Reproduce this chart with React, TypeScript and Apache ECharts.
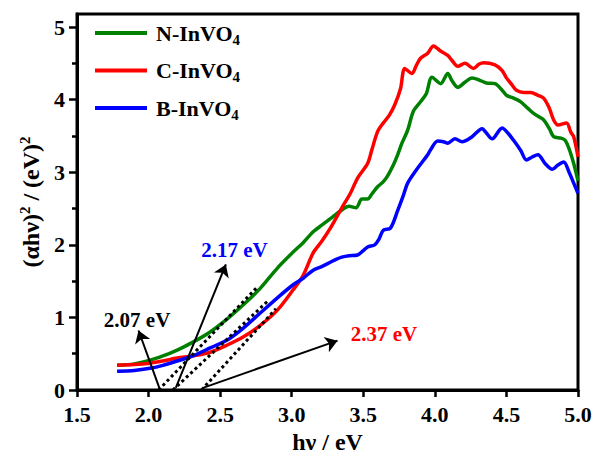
import React, { useEffect, useRef } from "react";
import * as echarts from "echarts";

const FONT = "'Liberation Serif', 'Times New Roman', serif";

const xTicks = [1.5, 2.0, 2.5, 3.0, 3.5, 4.0, 4.5, 5.0];
const yTicks = [0, 1, 2, 3, 4, 5];
const yMinorTicks = [0.5, 1.5, 2.5, 3.5, 4.5];

const seriesNames = ["N-InVO4", "C-InVO4", "B-InVO4"];
const seriesColors = ["#008000", "#ff0000", "#0000ff"];

const nData = [
  [1.78, 0.34], [1.9, 0.36], [2.01, 0.41], [2.1, 0.47], [2.2, 0.55], [2.31, 0.66], [2.43, 0.8],
  [2.55, 0.98], [2.66, 1.17], [2.78, 1.4], [2.9, 1.68], [3.01, 1.9], [3.08, 2.03], [3.15, 2.18],
  [3.21, 2.27], [3.27, 2.36], [3.35, 2.48], [3.4, 2.53], [3.45, 2.51], [3.49, 2.63], [3.53, 2.63],
  [3.56, 2.7], [3.6, 2.8], [3.64, 2.87], [3.67, 2.95], [3.71, 3.1], [3.74, 3.24], [3.77, 3.4],
  [3.81, 3.58], [3.85, 3.84], [3.9, 3.97], [3.94, 4.08], [3.98, 4.31], [4.04, 4.22], [4.09, 4.36],
  [4.12, 4.26], [4.16, 4.17], [4.21, 4.24], [4.26, 4.3], [4.31, 4.27], [4.36, 4.23], [4.42, 4.22],
  [4.47, 4.13], [4.5, 4.06], [4.55, 4.02], [4.6, 3.97], [4.65, 3.88], [4.69, 3.81], [4.73, 3.76],
  [4.76, 3.72], [4.8, 3.6], [4.83, 3.49], [4.88, 3.47], [4.91, 3.44], [4.94, 3.31], [4.97, 3.12],
  [5.0, 2.88],
];

const cData = [
  [1.78, 0.34], [1.9, 0.35], [2.01, 0.37], [2.1, 0.4], [2.2, 0.44], [2.31, 0.47], [2.43, 0.52],
  [2.55, 0.62], [2.66, 0.73], [2.78, 0.89], [2.9, 1.1], [3.01, 1.38], [3.08, 1.58], [3.15, 1.89],
  [3.21, 2.05], [3.27, 2.23], [3.35, 2.51], [3.41, 2.71], [3.46, 2.92], [3.53, 3.12], [3.56, 3.31],
  [3.6, 3.56], [3.64, 3.68], [3.68, 3.78], [3.72, 3.93], [3.76, 4.15], [3.79, 4.43], [3.84, 4.36],
  [3.87, 4.47], [3.9, 4.57], [3.95, 4.64], [3.99, 4.74], [4.04, 4.67], [4.09, 4.61], [4.12, 4.54],
  [4.16, 4.46], [4.21, 4.5], [4.27, 4.43], [4.31, 4.49], [4.34, 4.51], [4.42, 4.48], [4.47, 4.4],
  [4.5, 4.3], [4.54, 4.2], [4.57, 4.13], [4.62, 4.1], [4.67, 4.1], [4.72, 4.06], [4.76, 4.02],
  [4.8, 3.88], [4.83, 3.72], [4.86, 3.65], [4.92, 3.68], [4.95, 3.55], [4.97, 3.49], [5.0, 3.21],
];

const bData = [
  [1.78, 0.26], [1.9, 0.27], [2.01, 0.3], [2.1, 0.34], [2.2, 0.4], [2.31, 0.47], [2.43, 0.58],
  [2.55, 0.69], [2.66, 0.85], [2.78, 1.06], [2.9, 1.27], [3.01, 1.45], [3.08, 1.54], [3.15, 1.65],
  [3.21, 1.7], [3.27, 1.76], [3.31, 1.8], [3.35, 1.83], [3.4, 1.85], [3.46, 1.86], [3.5, 1.92],
  [3.53, 1.97], [3.58, 2.0], [3.61, 2.08], [3.64, 2.2], [3.69, 2.23], [3.74, 2.47], [3.78, 2.68],
  [3.81, 2.85], [3.87, 3.03], [3.95, 3.24], [3.97, 3.31], [4.02, 3.43], [4.06, 3.42], [4.09, 3.4],
  [4.14, 3.46], [4.19, 3.42], [4.26, 3.49], [4.33, 3.6], [4.36, 3.54], [4.4, 3.46], [4.47, 3.61],
  [4.51, 3.54], [4.55, 3.44], [4.6, 3.3], [4.64, 3.17], [4.68, 3.21], [4.72, 3.24], [4.77, 3.12],
  [4.82, 3.04], [4.86, 3.1], [4.9, 3.14], [4.94, 2.99], [4.97, 2.85], [5.0, 2.71],
];

// Tauc-plot tangent (extrapolation) lines: [start, end] in data units
const tangentLines = [
  [[2.07, 0], [2.76, 1.42]],
  [[2.17, 0], [2.83, 1.22]],
  [[2.37, 0], [2.89, 1.12]],
];

// Arrows from intercepts to the labels: [from, to] in data units
const arrowLines = [
  [[2.075, 0.03], [1.93, 0.82]],
  [[2.19, 0.03], [2.54, 1.73]],
  [[2.38, 0.03], [3.32, 0.68]],
];

const gapLabels = ["2.07 eV", "2.17 eV", "2.37 eV"];
const gapLabelAt = [[1.92, 0.96], [2.6, 1.93], [3.645, 0.77]];
const gapLabelColors = ["#000000", "#0000ff", "#ff0000"];

export default function App() {
  const ref = useRef<HTMLDivElement>(null);

  useEffect(() => {
    if (!ref.current) return;
    const chart = echarts.init(ref.current, null, { renderer: "svg" });

    const curveSeries = [nData, cData, bData].map((d, i) => ({
      name: seriesNames[i],
      type: "line",
      data: d,
      symbol: "none",
      smooth: 0.3,
      lineStyle: { color: seriesColors[i], width: 3.5 },
      itemStyle: { color: seriesColors[i] },
      z: 3,
    }));

    const tangentSeries = tangentLines.map((seg, i) => ({
      name: "tangent" + i,
      type: "line",
      data: seg,
      symbol: "none",
      lineStyle: { color: "#000", width: 3, type: "dotted" },
      z: 4,
      silent: true,
    }));

    const labelSeries = {
      name: "gapLabels",
      type: "scatter",
      symbolSize: 1,
      itemStyle: { color: "rgba(0,0,0,0)", opacity: 1 },
      silent: true,
      z: 6,
      data: gapLabelAt.map((p, i) => ({
        value: p,
        label: {
          show: true,
          position: "inside",
          formatter: gapLabels[i],
          color: gapLabelColors[i],
          opacity: 1,
          fontSize: 21,
          fontWeight: "bold",
          fontFamily: FONT,
        },
      })),
      markLine: {
        silent: true,
        symbol: ["none", "arrow"],
        symbolSize: 12,
        label: { show: false },
        lineStyle: { color: "#000", width: 2, type: "solid", opacity: 1 },
        itemStyle: { color: "#000" },
        emphasis: { disabled: true },
        data: arrowLines.map(([a, b]) => [{ coord: a }, { coord: b }]),
      },
    };

    chart.setOption({
      animation: false,
      backgroundColor: "#ffffff",
      grid: {
        left: 77,
        right: 17,
        top: 14,
        bottom: 74,
        show: true,
        borderColor: "#000",
        borderWidth: 3,
        outerBoundsMode: "none",
      },
      legend: {
        data: seriesNames.map((n, i) => ({ name: n, icon: "rect", itemStyle: { color: seriesColors[i] } })),
        orient: "vertical",
        left: 95,
        top: 22,
        padding: 0,
        itemWidth: 52,
        itemHeight: 4,
        itemGap: 12.5,
        selectedMode: false,
        formatter: (name: string) => `{m|${name.slice(0, -1)}}{s|${name.slice(-1)}}`,
        textStyle: {
          padding: [0, 0, 0, 4],
          rich: {
            m: { fontSize: 22, fontWeight: "bold", fontFamily: FONT, color: "#000", lineHeight: 28 },
            s: { fontSize: 15, fontWeight: "bold", fontFamily: FONT, color: "#000", lineHeight: 15, verticalAlign: "bottom" },
          },
        },
      },
      xAxis: {
        type: "value",
        min: 1.5,
        max: 5.0,
        interval: 0.5,
        name: "hν / eV",
        nameLocation: "middle",
        nameGap: 37,
        nameTextStyle: { fontSize: 24, fontWeight: "bold", fontFamily: FONT, color: "#000" },
        axisLine: { lineStyle: { color: "#000", width: 3 } },
        axisTick: { show: true, inside: false, length: 7, lineStyle: { color: "#000", width: 2.5 }, customValues: xTicks },
        axisLabel: {
          customValues: xTicks,
          formatter: (v: number) => v.toFixed(1),
          fontSize: 22,
          fontWeight: "bold",
          fontFamily: FONT,
          color: "#000",
          margin: 13,
        },
        splitLine: { show: false },
      },
      yAxis: [
        {
          type: "value",
          min: 0,
          max: 5.18,
          interval: 1,
          name: "{m|(αhν)}{s|2}{m| / (eV)}{s|2}",
          nameLocation: "middle",
          nameRotate: 90,
          nameGap: 30,
          nameTextStyle: {
            rich: {
              m: { fontSize: 24, fontWeight: "bold", fontFamily: FONT, color: "#000", lineHeight: 28 },
              s: { fontSize: 15, fontWeight: "bold", fontFamily: FONT, color: "#000", lineHeight: 15, verticalAlign: "top" },
            },
          },
          axisLine: { show: true, lineStyle: { color: "#000", width: 3 } },
          axisTick: { show: true, inside: false, length: 8, lineStyle: { color: "#000", width: 2.5 }, customValues: yTicks },
          axisLabel: {
            customValues: yTicks,
            fontSize: 22,
            fontWeight: "bold",
            fontFamily: FONT,
            color: "#000",
            margin: 12,
          },
          splitLine: { show: false },
        },
        {
          type: "value",
          min: 0,
          max: 5.18,
          interval: 1,
          position: "left",
          axisLine: { show: false },
          axisTick: { show: true, inside: false, length: 5, lineStyle: { color: "#000", width: 2.5 }, customValues: yMinorTicks },
          axisLabel: { show: false },
          splitLine: { show: false },
        },
      ],
      series: [...curveSeries, ...tangentSeries, labelSeries],
    });

    return () => chart.dispose();
  }, []);

  return (
    <div
      ref={ref}
      style={{ position: "fixed", left: 0, top: 0, width: 595, height: 464, background: "#fff" }}
    />
  );
}
